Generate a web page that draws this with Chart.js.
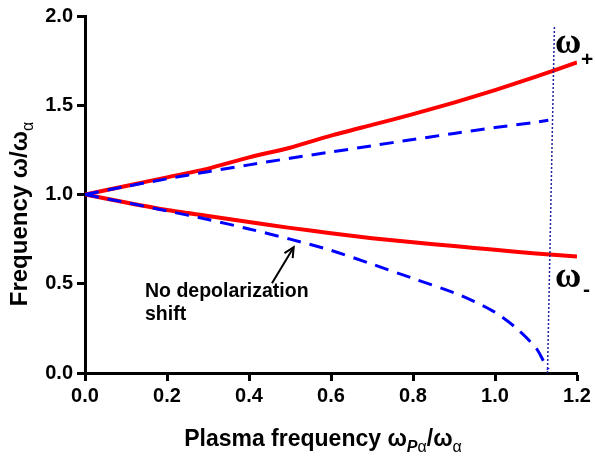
<!DOCTYPE html>
<html>
<head>
<meta charset="utf-8">
<script src="https://cdn.jsdelivr.net/npm/chart.js@4/dist/chart.umd.min.js"></script>
<style>
  html, body { margin: 0; padding: 0; background: #ffffff; }
  #wrap { width: 595px; height: 457px; position: relative; }
</style>
</head>
<body>
<div id="wrap"><canvas id="c" width="595" height="457"></canvas></div>
<script>
// ---- data ----
const plasmaFreq = [0, 0.1, 0.2, 0.3, 0.4, 0.5, 0.6, 0.7, 0.8, 0.9, 1.0, 1.1, 1.2];
const omegaPlus  = [1.0, 1.048, 1.096, 1.145, 1.208, 1.262, 1.33, 1.39, 1.45, 1.515, 1.585, 1.66, 1.74];
const omegaMinus = [1.0, 0.955, 0.913, 0.88, 0.846, 0.813, 0.783, 0.755, 0.732, 0.711, 0.69, 0.67, 0.652];

const noShiftPlusX = [0, 0.1, 0.2, 0.3, 0.4, 0.5, 0.6, 0.7, 0.8, 0.9, 1.0, 1.1, 1.13];
const noShiftPlus  = [1.0, 1.045, 1.088, 1.128, 1.166, 1.203, 1.238, 1.273, 1.308, 1.342, 1.375, 1.405, 1.416];
const noShiftMinusX = [0, 0.1, 0.2, 0.3, 0.4, 0.5, 0.6, 0.7, 0.8, 0.9, 0.95, 1.0, 1.05, 1.1, 1.12, 1.13];
const noShiftMinus  = [1.0, 0.955, 0.908, 0.86, 0.807, 0.75, 0.687, 0.61, 0.53, 0.45, 0.40, 0.34, 0.255, 0.14, 0.06, 0.02];

const cutoffX = [1.128, 1.145];
const cutoffY = [0, 1.95];

const xTicks = [0, 0.2, 0.4, 0.6, 0.8, 1.0, 1.2];
const yTicks = [0, 0.5, 1.0, 1.5, 2.0];

const pts = (xs, ys) => xs.map((x, i) => ({ x: x, y: ys[i] }));

const SANS = '"Liberation Sans", Arial, sans-serif';
const SERIF = '"Liberation Serif", "Times New Roman", serif';

const textPlugin = {
  id: 'texts',
  afterDraw(chart) {
    const ctx = chart.ctx;
    const xs = chart.scales.x, ys = chart.scales.y;
    ctx.save();
    ctx.fillStyle = '#000';
    ctx.textBaseline = 'alphabetic';

    // x axis title: Plasma frequency ω_Pα/ω_α
    const parts = [
      { t: 'Plasma frequency ω', f: 'bold 23px ' + SANS, dy: 0 },
      { t: 'P', f: 'italic bold 16px ' + SANS, dy: 6 },
      { t: 'α', f: '16px ' + SANS, dy: 6 },
      { t: '/ω', f: 'bold 23px ' + SANS, dy: 0 },
      { t: 'α', f: '16px ' + SANS, dy: 6 }
    ];
    let total = 0;
    parts.forEach(p => { ctx.font = p.f; p.w = ctx.measureText(p.t).width; total += p.w; });
    let cx = 323 - total / 2;
    parts.forEach(p => { ctx.font = p.f; ctx.textAlign = 'left'; ctx.fillText(p.t, cx, 446 + p.dy); cx += p.w; });

    // y axis title: Frequency ω/ω_α (rotated)
    ctx.save();
    ctx.translate(27, 214);
    ctx.rotate(-Math.PI / 2);
    const yparts = [
      { t: 'Frequency ω/ω', f: 'bold 24px ' + SANS, dy: 0 },
      { t: 'α', f: '16px ' + SANS, dy: 6 }
    ];
    let tot2 = 0;
    yparts.forEach(p => { ctx.font = p.f; p.w = ctx.measureText(p.t).width; tot2 += p.w; });
    let cy = -tot2 / 2;
    yparts.forEach(p => { ctx.font = p.f; ctx.textAlign = 'left'; ctx.fillText(p.t, cy, p.dy); cy += p.w; });
    ctx.restore();

    // ω+ and ω- labels
    ctx.textAlign = 'left';
    ctx.font = 'bold 36px ' + SERIF;
    ctx.fillText('ω', 555, 53);
    ctx.fillText('ω', 555, 287);
    ctx.font = 'bold 21px ' + SANS;
    ctx.fillText('+', 581, 66);
    ctx.fillText('-', 583, 296);

    // annotation text
    ctx.font = 'bold 19.5px ' + SANS;
    ctx.fillText('No depolarization', 145, 297);
    ctx.fillText('shift', 145, 320);

    // arrow
    const x1 = xs.getPixelForValue(0.456), y1 = ys.getPixelForValue(0.503);
    const x2 = xs.getPixelForValue(0.509), y2 = ys.getPixelForValue(0.705);
    ctx.strokeStyle = '#000';
    ctx.lineWidth = 2;
    ctx.beginPath();
    ctx.moveTo(x1, y1);
    ctx.lineTo(x2, y2);
    ctx.stroke();
    const ang = Math.atan2(y2 - y1, x2 - x1);
    const hl = 11, ha = 0.45;
    ctx.beginPath();
    ctx.moveTo(x2 - hl * Math.cos(ang - ha), y2 - hl * Math.sin(ang - ha));
    ctx.lineTo(x2, y2);
    ctx.lineTo(x2 - hl * Math.cos(ang + ha), y2 - hl * Math.sin(ang + ha));
    ctx.stroke();
    ctx.restore();
  }
};

new Chart(document.getElementById('c'), {
  type: 'line',
  data: {
    datasets: [
      { data: pts(cutoffX, cutoffY), borderColor: '#22229a', borderWidth: 1.5, borderDash: [2, 2], pointRadius: 0, tension: 0 },
      { data: pts(noShiftPlusX, noShiftPlus), borderColor: '#0000ff', borderWidth: 3, borderDash: [14, 9], pointRadius: 0, tension: 0.3 },
      { data: pts(noShiftMinusX, noShiftMinus), borderColor: '#0000ff', borderWidth: 3, borderDash: [14, 9], pointRadius: 0, tension: 0.3 },
      { data: pts(plasmaFreq, omegaPlus), borderColor: '#ff0000', borderWidth: 4, pointRadius: 0, tension: 0.2 },
      { data: pts(plasmaFreq, omegaMinus), borderColor: '#ff0000', borderWidth: 4, pointRadius: 0, tension: 0.2 }
    ]
  },
  options: {
    responsive: false,
    animation: false,
    events: [],
    layout: { padding: { left: 0, right: 18, top: 10, bottom: 0 } },
    plugins: { legend: { display: false }, tooltip: { enabled: false } },
    scales: {
      x: {
        type: 'linear',
        min: 0, max: 1.2,
        afterBuildTicks: s => { s.ticks = xTicks.map(v => ({ value: v })); },
        afterFit: s => { s.height = 84; },
        border: { display: true, color: '#000', width: 3 },
        grid: { display: true, drawOnChartArea: false, drawTicks: true, tickLength: 8, tickWidth: 3, tickColor: '#000' },
        ticks: { color: '#000', font: { family: SANS, size: 20, weight: 'bold' }, padding: 3, maxRotation: 0,
                 callback: v => Number(v).toFixed(1) },
        title: { display: false }
      },
      y: {
        type: 'linear',
        min: 0, max: 2,
        afterBuildTicks: s => { s.ticks = yTicks.map(v => ({ value: v })); },
        afterFit: s => { s.width = 85; },
        border: { display: true, color: '#000', width: 3 },
        grid: { display: true, drawOnChartArea: false, drawTicks: true, tickLength: 8, tickWidth: 3, tickColor: '#000' },
        ticks: { color: '#000', font: { family: SANS, size: 20, weight: 'bold' }, padding: 4,
                 callback: v => Number(v).toFixed(1) },
        title: { display: false }
      }
    }
  },
  plugins: [textPlugin]
});
</script>
</body>
</html>
